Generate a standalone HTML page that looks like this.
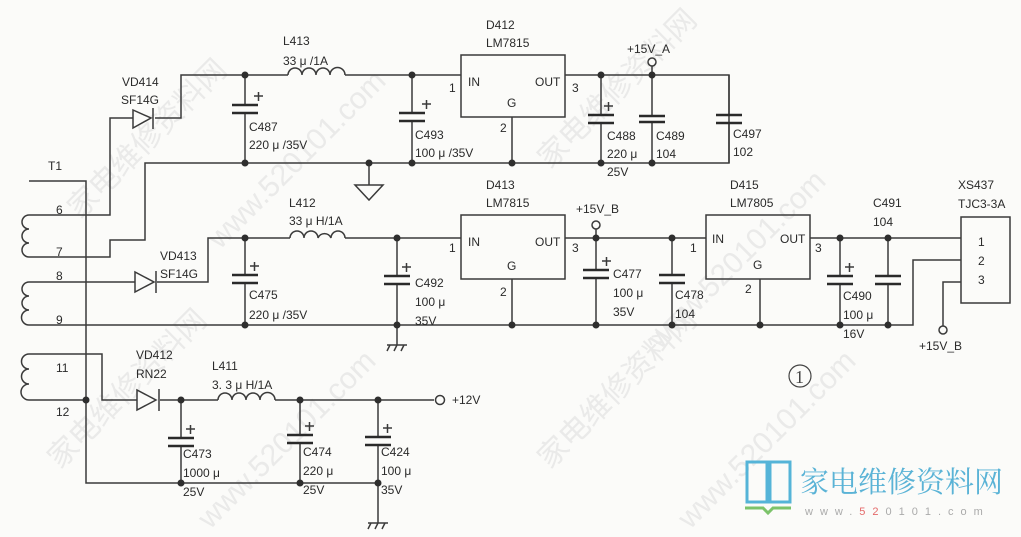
<!DOCTYPE html>
<html><head><meta charset="utf-8"><style>
html,body{margin:0;padding:0;background:#fbfbf9;}
svg{display:block}
text{font-family:"Liberation Sans",sans-serif;font-size:12px;fill:#2a2a2a}
.w{stroke:#3a3a3a;stroke-width:1.5;fill:none}
.p{stroke:#2a2a2a;stroke-width:2.4;fill:none}
.d{fill:#2e2e2e}
.wm{font-family:"Liberation Sans","Noto Sans CJK SC",sans-serif;font-size:30px;fill:#e2e2e2}
</style></head><body>
<svg width="1021" height="537" viewBox="0 0 1021 537" xmlns="http://www.w3.org/2000/svg">
<g opacity="0.7">
<text class="wm" transform="translate(80,220) rotate(-45)">家电维修资料网</text>
<text class="wm" transform="translate(220,250) rotate(-45)">www.520101.com</text>
<text class="wm" transform="translate(60,470) rotate(-45)">家电维修资料网</text>
<text class="wm" transform="translate(210,530) rotate(-45)">www.520101.com</text>
<text class="wm" transform="translate(550,170) rotate(-45)">家电维修资料网</text>
<text class="wm" transform="translate(660,350) rotate(-45)">www.520101.com</text>
<text class="wm" transform="translate(550,470) rotate(-45)">家电维修资料网</text>
<text class="wm" transform="translate(690,530) rotate(-45)">www.520101.com</text>
</g>

<path class="w" d="M29 181H86V483H378"/>
<path class="w" d="M29 215H110V118H133 M155 118H181V75H288 M345 75H461"/>
<path class="w" d="M29 257H110V240H145V163H729V75H565"/>
<path class="w" d="M29 215 a7 7 0 0 0 0 14 a7 7 0 0 0 0 14 a7 7 0 0 0 0 14"/>
<path class="w" d="M29 282H135 M157 282H208V238H290 M345 238H461"/>
<path class="w" d="M29 282 a7 7 0 0 0 0 14 a7 7 0 0 0 0 14 a7 7 0 0 0 0 15"/>
<path class="w" d="M29 325H913V260H961"/>
<path class="w" d="M29 354H102V400H137 M160 400H218 M275 400H434"/>
<path class="w" d="M29 400H86"/>
<path class="w" d="M29 354 a7 7 0 0 0 0 15 a7 7 0 0 0 0 15 a7 7 0 0 0 0 16"/>
<path class="w" d="M565 238H706 M810 238H961 M961 282H943V326"/>
<circle class="w" cx="943" cy="330" r="4"/>
<circle class="w" cx="440" cy="400" r="4.5"/>
<path class="w" d="M652 75V66"/><circle class="w" cx="652" cy="62" r="4"/>
<path class="w" d="M596 238V229"/><circle class="w" cx="596" cy="225" r="4"/>

<g class="w"><path d="M133 110V128L151 118Z M153 108V129"/></g>
<g class="w"><path d="M135 272V292L154 282Z M156 271V293"/></g>
<g class="w"><path d="M137 390V410L156 400Z M159 389V411"/></g>

<path class="w" d="M288 75a7 7 0 0 1 14 0a7 7 0 0 1 14 0a7 7 0 0 1 14 0a7 7 0 0 1 15 0"/>
<path class="w" d="M290 238a7 7 0 0 1 14 0a7 7 0 0 1 14 0a7 7 0 0 1 13 0a7 7 0 0 1 14 0"/>
<path class="w" d="M218 400a7 7 0 0 1 14 0a7 7 0 0 1 14 0a7 7 0 0 1 14 0a7 7 0 0 1 15 0"/>

<rect class="w" x="461" y="55" width="104" height="62"/>
<rect class="w" x="461" y="215" width="104" height="64"/>
<rect class="w" x="706" y="215" width="104" height="64"/>
<rect class="w" x="961" y="217" width="49" height="86"/>
<path class="w" d="M512 117V163 M512 279V325 M760 279V325"/>

<path class="w" d="M245 75V105 M245 113V163 M412 75V113 M412 121V163 M601 75V115 M601 123V163 M652 75V115 M652 121V163 M729 75V115 M729 123V163"/>
<path class="w" d="M245 238V275 M245 283V325 M397 238V276 M397 284V325 M596 238V270 M596 278V325 M672 238V275 M672 283V325 M840 238V276 M840 284V325 M888 238V276 M888 284V325"/>
<path class="w" d="M181 400V438 M181 446V483 M300 400V435 M300 443V483 M378 400V437 M378 445V523"/>
<path class="p" d="M232 105h26M232 113h26 M399 113h26M399 121h26 M588 115h26M588 123h26 M639 116h26M639 122h26 M716 115h26M716 123h26"/>
<path class="p" d="M232 275h26M232 283h26 M384 276h26M384 284h26 M583 270h26M583 278h26 M659 275h26M659 283h26 M827 276h26M827 284h26 M875 276h26M875 284h26"/>
<path class="p" d="M168 438h26M168 446h26 M287 435h26M287 443h26 M365 437h26M365 445h26"/>
<g class="w"><path d="M254 96h9M258.5 92v9 M422 104h9M426.5 100v9 M604 106h9M608.5 102v9 M250 266h9M254.5 262v9 M402 267h9M406.5 263v9 M602 261h9M606.5 257v9 M845 267h9M849.5 263v9 M186 429h9M190.5 425v9 M305 426h9M309.5 422v9 M383 428h9M387.5 424v9"/></g>

<path class="w" d="M369 163V185 M355 185H383L369 200Z"/>
<path class="w" d="M397 325V345 M387 345H407 M390 345l-3 6 M397 345l-3 6 M404 345l-3 6"/>
<path class="w" d="M368 523H388 M371 523l-3 6 M378 523l-3 6 M385 523l-3 6"/>

<g class="d">
<circle cx="245" cy="75" r="3.5"/><circle cx="412" cy="75" r="3.5"/><circle cx="601" cy="75" r="3.5"/><circle cx="652" cy="75" r="3.5"/>
<circle cx="245" cy="163" r="3.5"/><circle cx="369" cy="163" r="3.5"/><circle cx="412" cy="163" r="3.5"/><circle cx="512" cy="163" r="3.5"/><circle cx="601" cy="163" r="3.5"/><circle cx="652" cy="163" r="3.5"/>
<circle cx="245" cy="238" r="3.5"/><circle cx="397" cy="238" r="3.5"/><circle cx="596" cy="238" r="3.5"/><circle cx="672" cy="238" r="3.5"/><circle cx="840" cy="238" r="3.5"/><circle cx="888" cy="238" r="3.5"/>
<circle cx="245" cy="325" r="3.5"/><circle cx="397" cy="325" r="3.5"/><circle cx="512" cy="325" r="3.5"/><circle cx="596" cy="325" r="3.5"/><circle cx="672" cy="325" r="3.5"/><circle cx="760" cy="325" r="3.5"/><circle cx="840" cy="325" r="3.5"/><circle cx="888" cy="325" r="3.5"/>
<circle cx="86" cy="400" r="3.5"/><circle cx="181" cy="400" r="3.5"/><circle cx="300" cy="400" r="3.5"/><circle cx="378" cy="400" r="3.5"/>
<circle cx="181" cy="483" r="3.5"/><circle cx="300" cy="483" r="3.5"/><circle cx="378" cy="483" r="3.5"/>
</g>

<text x="48" y="170">T1</text>
<text x="56" y="214">6</text><text x="56" y="256">7</text><text x="56" y="280">8</text><text x="56" y="324">9</text>
<text x="56" y="372">11</text><text x="56" y="416">12</text>
<text x="122" y="86">VD414</text><text x="121" y="104">SF14G</text>
<text x="160" y="260">VD413</text><text x="160" y="278">SF14G</text>
<text x="136" y="359">VD412</text><text x="136" y="378">RN22</text>
<text x="283" y="45">L413</text><text x="283" y="65">33 μ /1A</text>
<text x="289" y="207">L412</text><text x="289" y="225">33 μ H/1A</text>
<text x="212" y="370">L411</text><text x="212" y="389">3. 3 μ H/1A</text>
<text x="249" y="131">C487</text><text x="249" y="149">220 μ /35V</text>
<text x="415" y="139">C493</text><text x="415" y="157">100 μ /35V</text>
<text x="249" y="299">C475</text><text x="249" y="319">220 μ /35V</text>
<text x="415" y="287">C492</text><text x="415" y="306">100 μ</text><text x="415" y="325">35V</text>
<text x="486" y="29">D412</text><text x="486" y="47">LM7815</text>
<text x="468" y="86">IN</text><text x="535" y="86">OUT</text><text x="507" y="107">G</text>
<text x="449" y="92">1</text><text x="572" y="92">3</text><text x="500" y="132">2</text>
<text x="486" y="189">D413</text><text x="486" y="207">LM7815</text>
<text x="468" y="246">IN</text><text x="535" y="246">OUT</text><text x="507" y="270">G</text>
<text x="449" y="252">1</text><text x="572" y="252">3</text><text x="500" y="296">2</text>
<text x="730" y="189">D415</text><text x="730" y="207">LM7805</text>
<text x="712" y="243">IN</text><text x="780" y="243">OUT</text><text x="753" y="269">G</text>
<text x="690" y="252">1</text><text x="815" y="252">3</text><text x="745" y="293">2</text>
<text x="627" y="53">+15V_A</text>
<text x="576" y="213">+15V_B</text>
<text x="607" y="140">C488</text><text x="607" y="158">220 μ</text><text x="607" y="176">25V</text>
<text x="656" y="140">C489</text><text x="656" y="158">104</text>
<text x="733" y="138">C497</text><text x="733" y="156">102</text>
<text x="613" y="278">C477</text><text x="613" y="297">100 μ</text><text x="613" y="316">35V</text>
<text x="675" y="299">C478</text><text x="675" y="318">104</text>
<text x="843" y="300">C490</text><text x="843" y="319">100 μ</text><text x="843" y="338">16V</text>
<text x="873" y="207">C491</text><text x="873" y="226">104</text>
<text x="958" y="189">XS437</text><text x="958" y="208">TJC3-3A</text>
<text x="978" y="246">1</text><text x="978" y="265">2</text><text x="978" y="284">3</text>
<text x="919" y="350">+15V_B</text>
<text x="452" y="404">+12V</text>
<text x="183" y="458">C473</text><text x="183" y="477">1000 μ</text><text x="183" y="496">25V</text>
<text x="303" y="456">C474</text><text x="303" y="475">220 μ</text><text x="303" y="494">25V</text>
<text x="381" y="456">C424</text><text x="381" y="475">100 μ</text><text x="381" y="494">35V</text>
<circle cx="800" cy="376" r="11" fill="none" stroke="#444" stroke-width="1.2"/>
<text x="795" y="383" style="font-family:'Liberation Serif',serif;font-size:18px;fill:#444">1</text>

<path d="M747 462h20v40h-20z M770 462h20v40h-20z" fill="none" stroke="#55b4d8" stroke-width="3"/>
<path d="M745 508h18l5 5 5-5h18" fill="none" stroke="#7cc36a" stroke-width="3"/>
<text x="800" y="492" style="font-family:'Noto Serif CJK SC','Noto Sans CJK SC',sans-serif;font-size:29px;fill:#5ab3d6">家电维修资料网</text>
<text x="805" y="515" style="font-size:11px;fill:#aaa;letter-spacing:7px">www.<tspan style="fill:#e46a6a">52</tspan>0101.com</text>
</svg>
</body></html>
